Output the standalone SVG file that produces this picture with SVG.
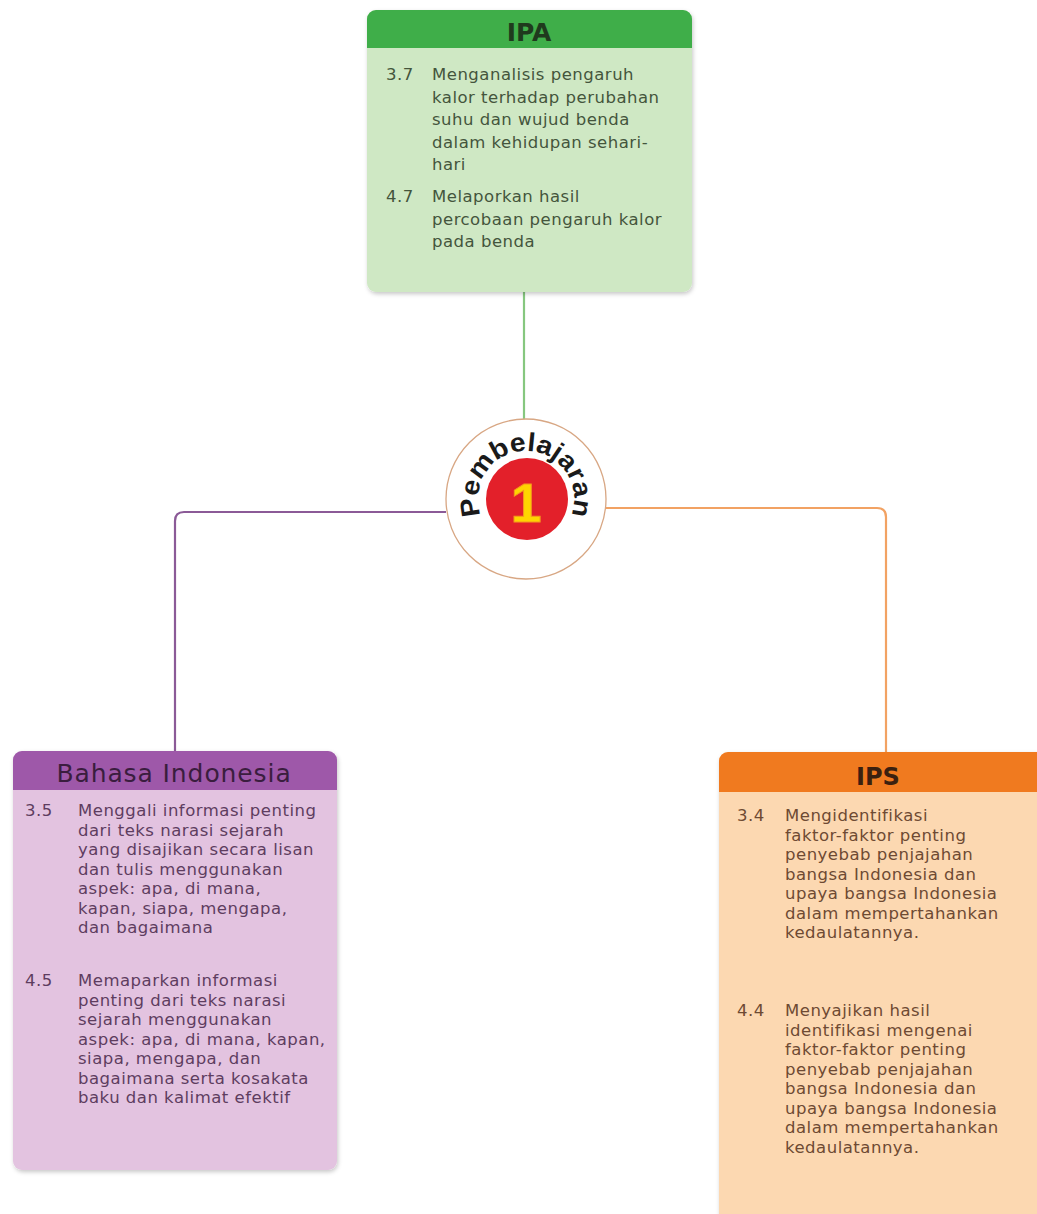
<svg xmlns="http://www.w3.org/2000/svg" width="1037" height="1214" viewBox="0 0 1037 1214">
<defs>
<filter id="sh" x="-5%" y="-5%" width="110%" height="110%">
<feDropShadow dx="1" dy="2" stdDeviation="2" flood-color="#000" flood-opacity="0.22"/>
</filter>
<clipPath id="cIPA"><rect x="367" y="10" width="325" height="282" rx="9"/></clipPath>
<clipPath id="cBI"><rect x="13" y="751" width="324" height="419" rx="9"/></clipPath>
<clipPath id="cIPS"><rect x="719" y="752" width="330" height="480" rx="9"/></clipPath>
<path id="arc" d="M 492.1 532.9 A 48 48 0 1 1 559.9 532.9"/>
</defs>
<style>
.body{font-family:"DejaVu Sans","Liberation Sans",sans-serif;font-size:16.5px;letter-spacing:0.5px}
.title{font-family:"DejaVu Sans","Liberation Sans",sans-serif;text-anchor:middle}
.g{fill:#44553c}
.p{fill:#5e3d5f}
.o{fill:#6e4a33}
.conn{fill:none;stroke-width:2.2}
</style>
<rect width="1037" height="1214" fill="#ffffff"/>

<g id="connectors">
<line class="conn" x1="524" y1="292" x2="524" y2="420" stroke="#86c77f"/>
<path class="conn" d="M 446 512 L 184 512 Q 175 512 175 521 L 175 751" stroke="#8b5a97"/>
<path class="conn" d="M 605 508 L 877 508 Q 886 508 886 517 L 886 752" stroke="#f2a263"/>
</g>

<g id="node-ipa">
<g filter="url(#sh)">
<rect x="367" y="10" width="325" height="282" rx="9" fill="#cfe8c4"/>
</g>
<rect x="367" y="10" width="325" height="38" fill="#3fae49" clip-path="url(#cIPA)"/>
<text class="title" x="529" y="41" font-size="25" font-weight="bold" fill="#1f3a1d">IPA</text>
<text class="body g"><tspan x="386" y="80">3.7</tspan></text>
<text class="body g">
<tspan x="432" y="80">Menganalisis pengaruh</tspan>
<tspan x="432" y="102.5">kalor terhadap perubahan</tspan>
<tspan x="432" y="125">suhu dan wujud benda</tspan>
<tspan x="432" y="147.5">dalam kehidupan sehari-</tspan>
<tspan x="432" y="170">hari</tspan>
</text>
<text class="body g"><tspan x="386" y="202">4.7</tspan></text>
<text class="body g">
<tspan x="432" y="202">Melaporkan hasil</tspan>
<tspan x="432" y="224.5">percobaan pengaruh kalor</tspan>
<tspan x="432" y="247">pada benda</tspan>
</text>
</g>

<g id="node-center">
<circle cx="526" cy="499" r="80" fill="#ffffff" stroke="#d8a784" stroke-width="1.3"/>
<circle cx="527" cy="499" r="41" fill="#e3202a"/>
<text x="526" y="522" text-anchor="middle" font-family="Liberation Sans, sans-serif" font-weight="bold" font-size="56" fill="#ffd500" stroke="#f39a1d" stroke-width="1">1</text>
<text font-family="Liberation Sans, sans-serif" font-weight="bold" font-size="26" fill="#1a1a1a"><textPath href="#arc" startOffset="50%" text-anchor="middle" textLength="184" lengthAdjust="spacingAndGlyphs">Pembelajaran</textPath></text>
</g>

<g id="node-bahasa">
<g filter="url(#sh)">
<rect x="13" y="751" width="324" height="419" rx="9" fill="#e3c3e0"/>
</g>
<rect x="13" y="751" width="324" height="39" fill="#9e58a9" clip-path="url(#cBI)"/>
<text class="title" x="174" y="782" font-size="25" letter-spacing="0.9" fill="#3a1d3e">Bahasa Indonesia</text>
<text class="body p"><tspan x="25" y="816">3.5</tspan></text>
<text class="body p">
<tspan x="78" y="816">Menggali informasi penting</tspan>
<tspan x="78" y="835.5">dari teks narasi sejarah</tspan>
<tspan x="78" y="855">yang disajikan secara lisan</tspan>
<tspan x="78" y="874.5">dan tulis menggunakan</tspan>
<tspan x="78" y="894">aspek: apa, di mana,</tspan>
<tspan x="78" y="913.5">kapan, siapa, mengapa,</tspan>
<tspan x="78" y="933">dan bagaimana</tspan>
</text>
<text class="body p"><tspan x="25" y="986">4.5</tspan></text>
<text class="body p">
<tspan x="78" y="986">Memaparkan informasi</tspan>
<tspan x="78" y="1005.5">penting dari teks narasi</tspan>
<tspan x="78" y="1025">sejarah menggunakan</tspan>
<tspan x="78" y="1044.5">aspek: apa, di mana, kapan,</tspan>
<tspan x="78" y="1064">siapa, mengapa, dan</tspan>
<tspan x="78" y="1083.5">bagaimana serta kosakata</tspan>
<tspan x="78" y="1103">baku dan kalimat efektif</tspan>
</text>
</g>

<g id="node-ips">
<g filter="url(#sh)">
<rect x="719" y="752" width="330" height="480" rx="9" fill="#fcd8b1"/>
</g>
<rect x="719" y="752" width="330" height="40" fill="#f07a1f" clip-path="url(#cIPS)"/>
<text class="title" x="878" y="785" font-size="24" font-weight="bold" fill="#3b200f">IPS</text>
<text class="body o"><tspan x="737" y="821">3.4</tspan></text>
<text class="body o">
<tspan x="785" y="821">Mengidentifikasi</tspan>
<tspan x="785" y="840.5">faktor-faktor penting</tspan>
<tspan x="785" y="860">penyebab penjajahan</tspan>
<tspan x="785" y="879.5">bangsa Indonesia dan</tspan>
<tspan x="785" y="899">upaya bangsa Indonesia</tspan>
<tspan x="785" y="918.5">dalam mempertahankan</tspan>
<tspan x="785" y="938">kedaulatannya.</tspan>
</text>
<text class="body o"><tspan x="737" y="1016">4.4</tspan></text>
<text class="body o">
<tspan x="785" y="1016">Menyajikan hasil</tspan>
<tspan x="785" y="1035.5">identifikasi mengenai</tspan>
<tspan x="785" y="1055">faktor-faktor penting</tspan>
<tspan x="785" y="1074.5">penyebab penjajahan</tspan>
<tspan x="785" y="1094">bangsa Indonesia dan</tspan>
<tspan x="785" y="1113.5">upaya bangsa Indonesia</tspan>
<tspan x="785" y="1133">dalam mempertahankan</tspan>
<tspan x="785" y="1152.5">kedaulatannya.</tspan>
</text>
</g>
</svg>
